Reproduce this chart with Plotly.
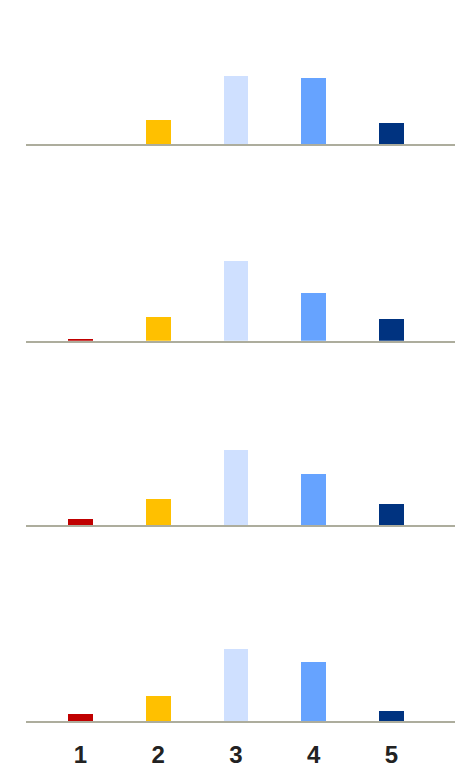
import plotly.graph_objects as go

# Share of responses per rating (1-5), one row of bars per question
ratings = [1, 2, 3, 4, 5]
rating_labels = ["1", "2", "3", "4", "5"]
q1_share = [0.0, 13.6, 38.4, 37.3, 11.9]
q2_share = [1.1, 13.6, 45.2, 27.1, 12.4]
q3_share = [3.4, 14.7, 42.4, 28.8, 11.9]
q4_share = [4.0, 14.1, 40.7, 33.3, 5.6]
rating_colors = ["#c00000", "#ffc000", "#cfe0ff", "#66a3ff", "#003380"]

panels = [q1_share, q2_share, q3_share, q4_share]

W, H = 464, 770
PX_PER_UNIT = 1.77          # same vertical scale in every row
ROW_PX = 140                # pixel height of each row's plot area
baselines_px = [144, 340.7, 525, 721]

fig = go.Figure()
layout = dict(
    width=W, height=H,
    margin=dict(l=0, r=0, t=0, b=0, autoexpand=False),
    paper_bgcolor="white", plot_bgcolor="white",
    showlegend=False, bargap=0,
)

for i, (vals, base) in enumerate(zip(panels, baselines_px), start=1):
    xa = "x" if i == 1 else f"x{i}"
    ya = "y" if i == 1 else f"y{i}"
    fig.add_trace(go.Bar(
        x=ratings, y=vals, width=0.32,
        marker=dict(color=rating_colors, line=dict(width=0)),
        xaxis=xa, yaxis=ya, hoverinfo="skip",
    ))
    bottom = (H - base) / H
    top = (H - (base - ROW_PX)) / H
    xkey = "xaxis" if i == 1 else f"xaxis{i}"
    ykey = "yaxis" if i == 1 else f"yaxis{i}"
    last = i == len(panels)
    layout[xkey] = dict(
        domain=[26 / W, 455 / W], range=[0.299, 5.817],
        anchor=ya, showgrid=False, zeroline=False, automargin=False,
        showline=True, linecolor="#adad9d", linewidth=2.3,
        tickmode="array", tickvals=ratings, ticktext=rating_labels,
        showticklabels=last, ticks="",
        ticklabelstandoff=11,
        tickfont=dict(family="Liberation Sans", size=24, color="#222222", weight="bold"),
    )
    layout[ykey] = dict(
        domain=[bottom, top], range=[0, ROW_PX / PX_PER_UNIT],
        anchor=xa, showgrid=False, zeroline=False, showline=False,
        automargin=False, showticklabels=False, ticks="",
    )

fig.update_layout(**layout)
fig.write_html("out.html")
